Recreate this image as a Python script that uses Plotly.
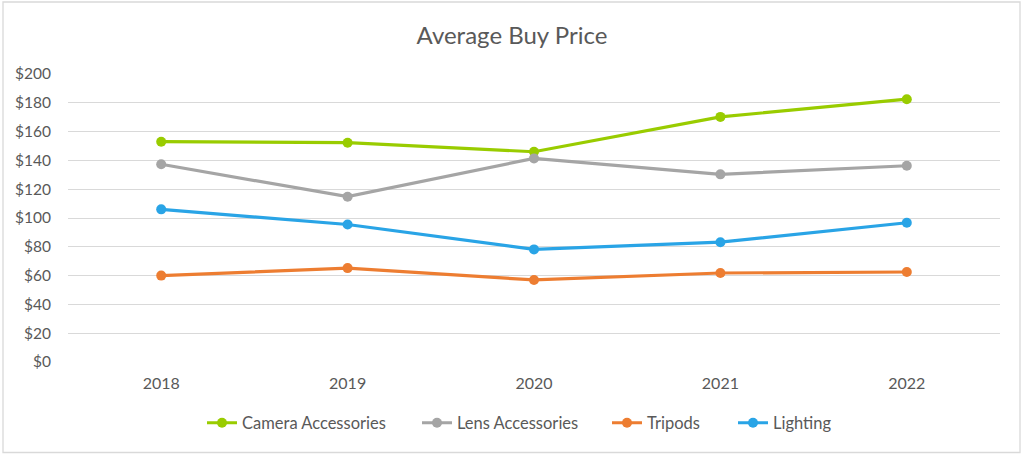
import plotly.graph_objects as go

years = ["2018", "2019", "2020", "2021", "2022"]
camera_accessories = [153, 152.3, 146, 170.2, 182.5]
lens_accessories = [137.3, 114.8, 141.4, 130.3, 136.3]
tripods = [60, 65.2, 57, 61.8, 62.5]
lighting = [106, 95.5, 78.2, 83.2, 96.7]
y_ticks = [0, 20, 40, 60, 80, 100, 120, 140, 160, 180, 200]
y_tick_labels = ["$" + str(v) for v in y_ticks]

series = [
    ("Camera Accessories", camera_accessories, "#99CC00"),
    ("Lens Accessories", lens_accessories, "#A5A5A5"),
    ("Tripods", tripods, "#ED7D31"),
    ("Lighting", lighting, "#29A4E6"),
]
# left pixel of each legend entry
legend_px = [202, 417, 607, 733]

FONT = "Lato, 'Open Sans', sans-serif"
PL, PW, PT, PH = 68, 932, 74, 288
fig = go.Figure()
legends = {}
for i, (name, vals, col) in enumerate(series):
    lid = "legend" if i == 0 else "legend%d" % (i + 1)
    fig.add_trace(go.Scatter(
        x=years, y=vals, name=name, mode="lines+markers",
        line=dict(color=col, width=3.2),
        marker=dict(color=col, size=10),
        legend=lid,
    ))
    legends[lid] = dict(orientation="h", x=(legend_px[i] - PL) / PW, xanchor="left",
                        y=-(423 - PT - PH) / PH, yanchor="middle",
                        font=dict(size=16.5, color="#595959"), itemwidth=30,
                        bgcolor="rgba(0,0,0,0)")

fig.update_layout(
    width=1024, height=456,
    paper_bgcolor="white", plot_bgcolor="white",
    margin=dict(l=PL, r=1024 - PL - PW, t=PT, b=456 - PT - PH),
    title=dict(text="Average Buy Price", x=0.5, xanchor="center", y=0.922, yanchor="middle",
               font=dict(family=FONT, size=24, color="#595959")),
    font=dict(family=FONT, size=15, color="#595959"),
    xaxis=dict(type="category", range=[-0.5, 4.5], showgrid=False, showline=False,
               zeroline=False, ticks="", ticklabelstandoff=10,
               tickfont=dict(size=16, color="#595959")),
    yaxis=dict(range=[0, 200], tickvals=y_ticks, ticktext=y_tick_labels,
               showgrid=True, gridcolor="#D9D9D9", gridwidth=1.3, zeroline=False,
               showline=False, ticks="", ticklabelstandoff=16,
               tickfont=dict(size=15.5, color="#595959")),
    showlegend=True,
    shapes=[dict(type="rect", xref="paper", yref="paper",
                 x0=-65 / PW, x1=(1020 - PL) / PW, y0=-(452.5 - PT - PH) / PH, y1=(PT + PH - 2) / PH,
                 line=dict(color="#D9D9D9", width=1.3), layer="below")],
    **legends,
)

fig.write_html("out.html")
